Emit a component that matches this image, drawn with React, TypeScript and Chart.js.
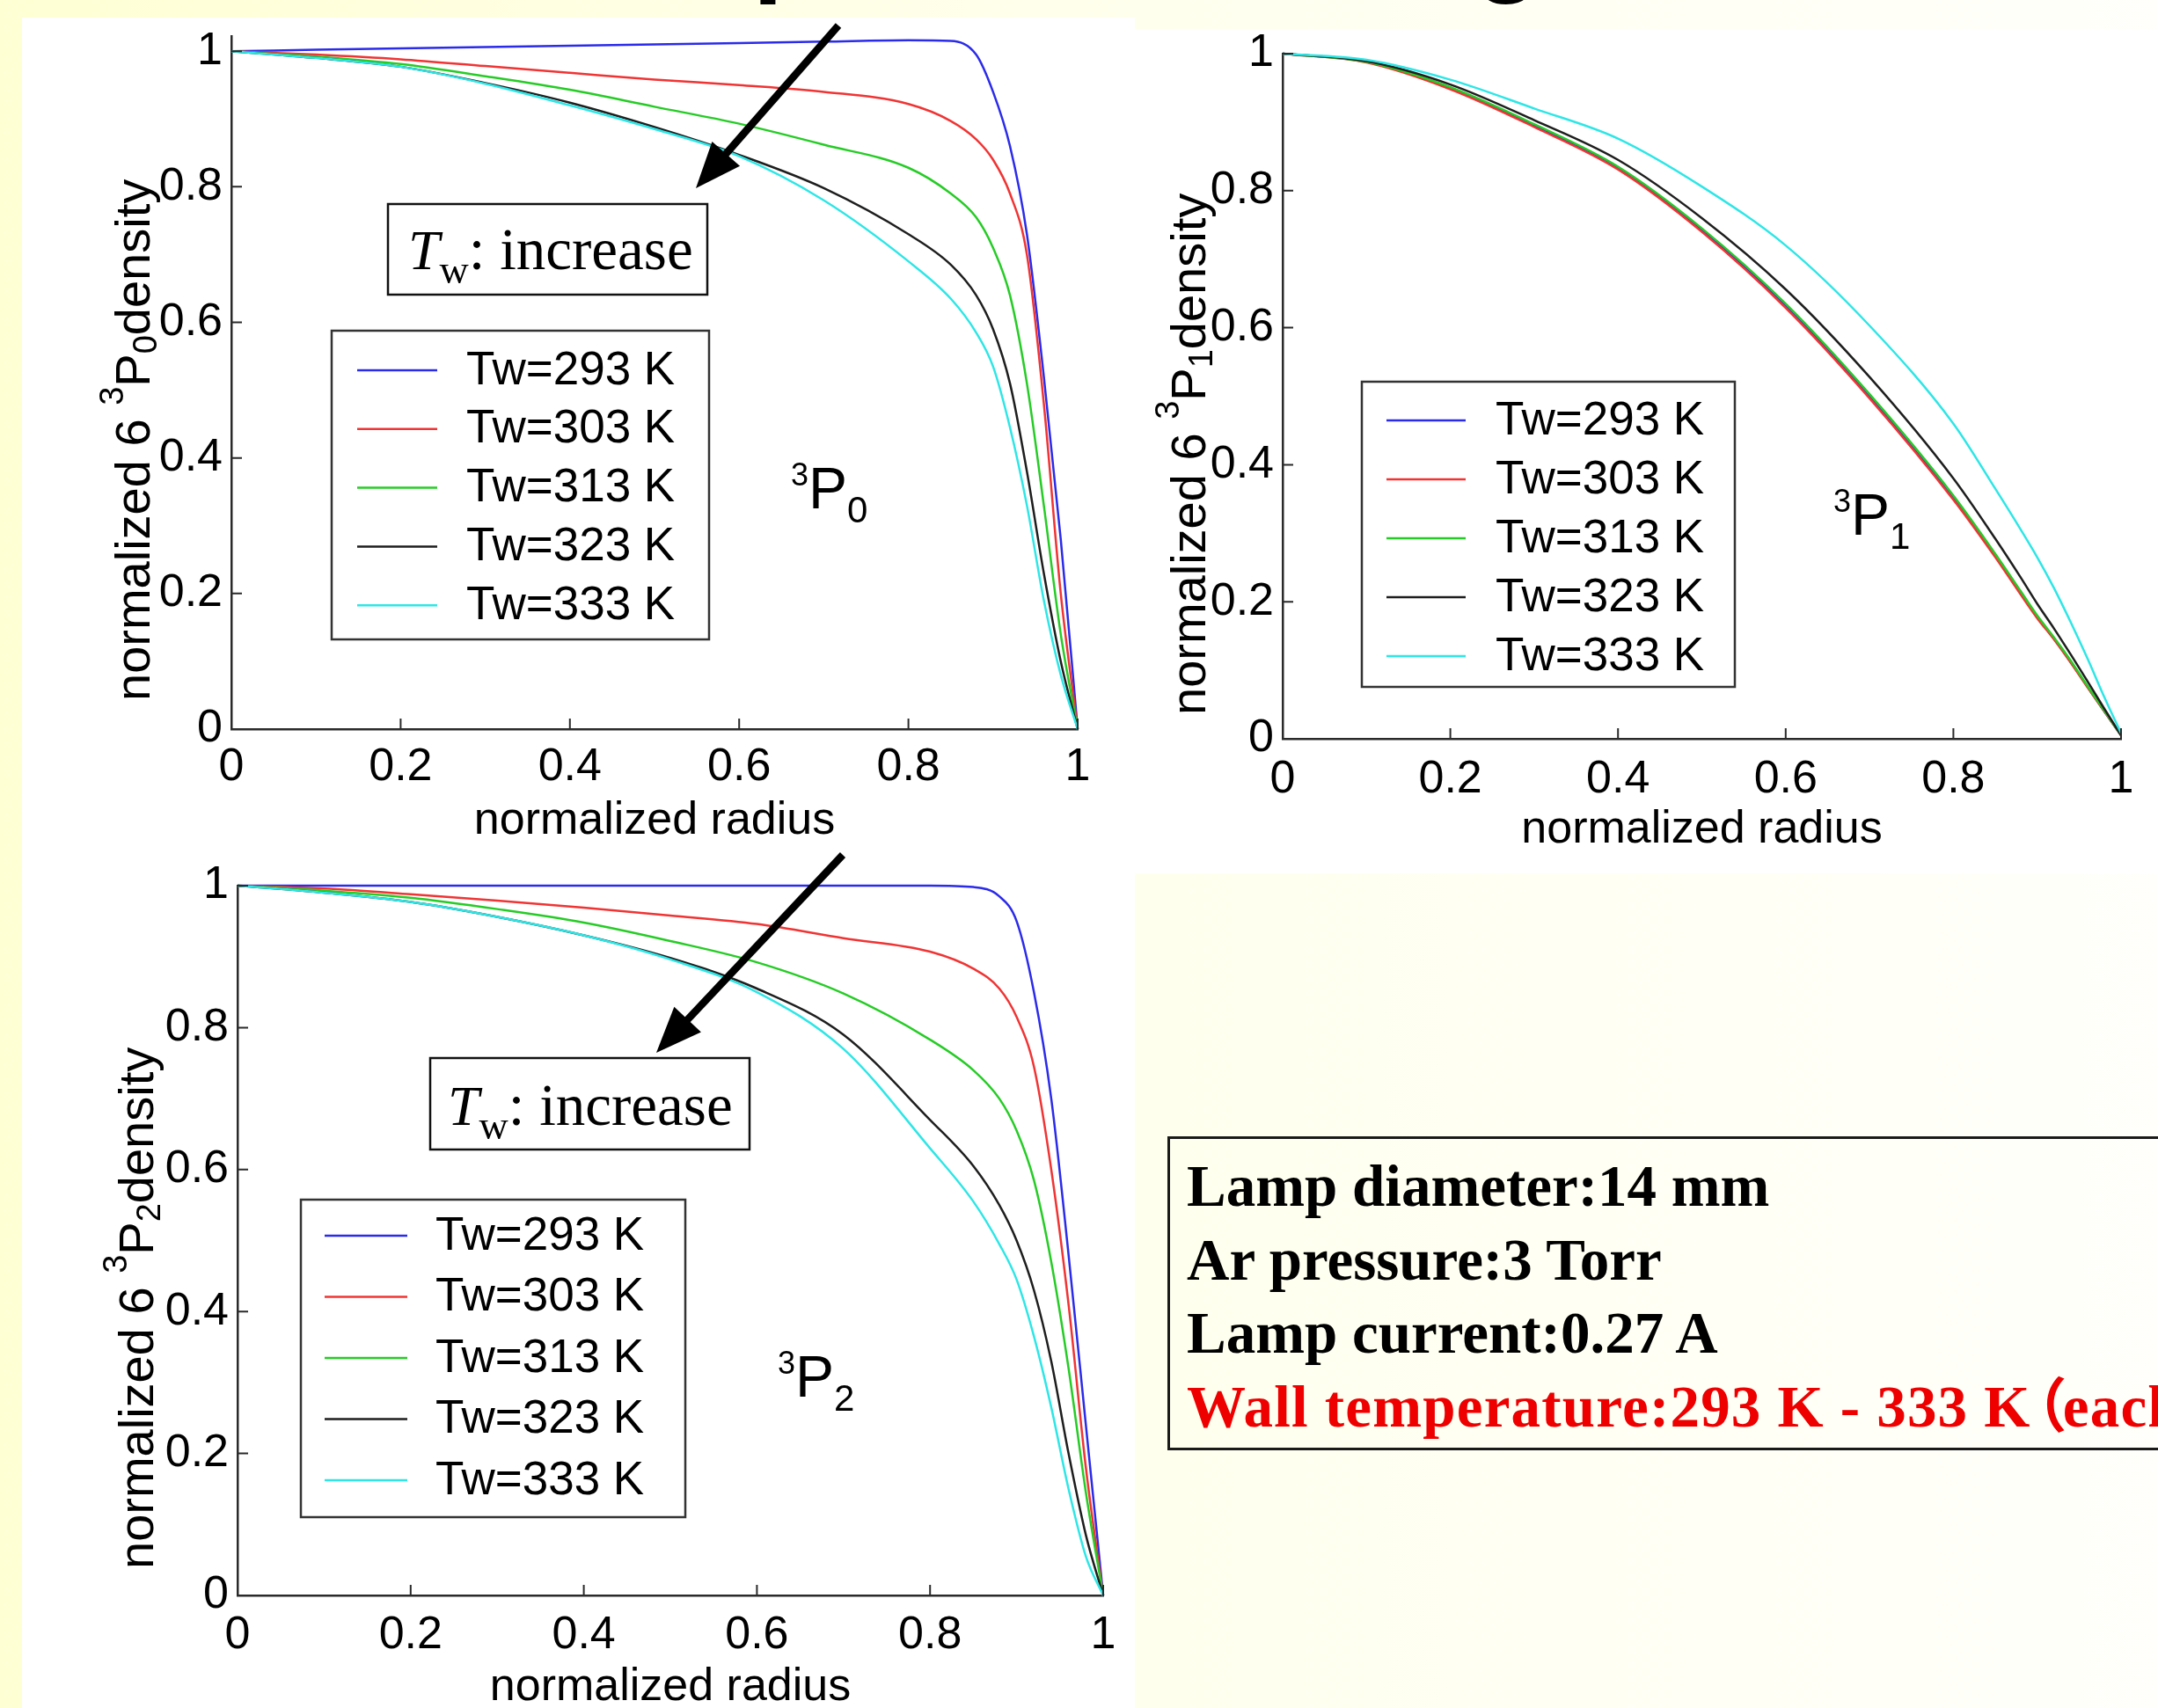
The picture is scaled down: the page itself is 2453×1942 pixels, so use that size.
import React, { useEffect, useRef } from 'react';
import { Chart, registerables } from 'chart.js';

Chart.register(...registerables);

// ---------------- data ----------------
const RADIUS = [0, 0.1, 0.2, 0.3, 0.4, 0.5, 0.6, 0.7, 0.8, 0.85, 0.88, 0.9, 0.92, 0.94, 0.96, 0.98, 1.0];
const TW_LABELS = ['Tw=293 K', 'Tw=303 K', 'Tw=313 K', 'Tw=323 K', 'Tw=333 K'];
const LINE_COLORS = ['#2b2bea', '#f03434', '#26cc26', '#1e1e1e', '#2ee6e6'];
const X_TICKS = [0, 0.2, 0.4, 0.6, 0.8, 1];
const X_TICK_LABELS = ['0', '0.2', '0.4', '0.6', '0.8', '1'];
const Y_TICKS = [0, 0.2, 0.4, 0.6, 0.8, 1];
const Y_TICK_LABELS = ['0', '0.2', '0.4', '0.6', '0.8', '1'];

// 6 3P0 density
const P0_293 = [1.0, 1.002, 1.004, 1.006, 1.008, 1.01, 1.012, 1.014, 1.016, 1.015, 0.995, 0.94, 0.86, 0.73, 0.52, 0.28, 0.0];
const P0_303 = [1.0, 0.995, 0.988, 0.978, 0.968, 0.958, 0.95, 0.94, 0.922, 0.897, 0.87, 0.84, 0.79, 0.7, 0.48, 0.2, 0.0];
const P0_313 = [1.0, 0.992, 0.981, 0.963, 0.943, 0.918, 0.893, 0.862, 0.828, 0.79, 0.755, 0.71, 0.64, 0.51, 0.33, 0.14, 0.0];
const P0_323 = [1.0, 0.99, 0.977, 0.953, 0.924, 0.888, 0.847, 0.798, 0.73, 0.685, 0.64, 0.59, 0.51, 0.38, 0.23, 0.1, 0.0];
const P0_333 = [1.0, 0.99, 0.977, 0.952, 0.92, 0.885, 0.845, 0.78, 0.69, 0.635, 0.585, 0.535, 0.445, 0.33, 0.19, 0.08, 0.0];

// 6 3P1 density
const P1_293 = [1.0, 0.988, 0.95, 0.895, 0.834, 0.743, 0.632, 0.5, 0.352, 0.267, 0.213, 0.178, 0.146, 0.112, 0.076, 0.04, 0.005];
const P1_303 = [1.0, 0.987, 0.948, 0.893, 0.831, 0.74, 0.629, 0.497, 0.349, 0.265, 0.211, 0.176, 0.145, 0.111, 0.075, 0.04, 0.005];
const P1_313 = [1.0, 0.988, 0.951, 0.897, 0.835, 0.745, 0.635, 0.503, 0.355, 0.27, 0.216, 0.18, 0.148, 0.114, 0.077, 0.041, 0.005];
const P1_323 = [1.0, 0.989, 0.955, 0.903, 0.845, 0.76, 0.656, 0.528, 0.38, 0.292, 0.236, 0.197, 0.161, 0.123, 0.084, 0.044, 0.005];
const P1_333 = [1.0, 0.991, 0.962, 0.92, 0.876, 0.806, 0.72, 0.603, 0.46, 0.365, 0.306, 0.265, 0.22, 0.17, 0.117, 0.061, 0.008];

// 6 3P2 density
const P2_293 = [1.0, 1.0, 1.0, 1.0, 1.0, 1.0, 1.0, 1.0, 1.0, 0.998, 0.985, 0.95, 0.85, 0.7, 0.48, 0.24, 0.0];
const P2_303 = [1.0, 0.996, 0.988, 0.979, 0.969, 0.958, 0.946, 0.926, 0.907, 0.883, 0.855, 0.815, 0.745, 0.6, 0.41, 0.18, 0.0];
const P2_313 = [1.0, 0.993, 0.983, 0.967, 0.948, 0.922, 0.892, 0.848, 0.783, 0.74, 0.7, 0.655, 0.585, 0.47, 0.32, 0.145, 0.0];
const P2_323 = [1.0, 0.99, 0.977, 0.956, 0.93, 0.898, 0.855, 0.79, 0.67, 0.605, 0.55, 0.5, 0.43, 0.33, 0.2, 0.085, 0.0];
const P2_333 = [1.0, 0.99, 0.977, 0.956, 0.93, 0.896, 0.85, 0.77, 0.63, 0.555, 0.495, 0.445, 0.365, 0.265, 0.15, 0.055, 0.0];

const INFO_LINES = ['Lamp diameter:14 mm', 'Ar pressure:3 Torr', 'Lamp current:0.27 A'];
const INFO_RED_A = 'Wall temperature:293 K - 333 K';
const INFO_RED_B = '（';
const INFO_RED_C = 'each 10 K）';
const TOP_TITLE = 'Temperature change';

// ---------------- styling ----------------
const SANS = '"Liberation Sans", Arial, Helvetica, sans-serif';
const SERIF = '"Liberation Serif", "Times New Roman", "Noto Sans CJK JP", serif';
const AXIS_COLOR = '#2a2a2a';
const TICK_LEN = 12;
const Y_AXIS_W = 150;

type Run = { t: string; size: number; dy?: number; style?: string; family?: string };

function drawRuns(ctx: CanvasRenderingContext2D, runs: Run[], x: number, y: number) {
  let cx = x;
  for (const r of runs) {
    ctx.font = `${r.style ? r.style + ' ' : ''}${r.size}px ${r.family ?? SANS}`;
    ctx.fillText(r.t, cx, y + (r.dy ?? 0));
    cx += ctx.measureText(r.t).width;
  }
}

type PanelCfg = {
  key: string;
  sub: string;
  series: number[][];
  canvas: { left: number; top: number; w: number; h: number };
  area: { left: number; top: number; right: number; bottom: number };
  yMax: number;
  xTickPad: number;
  xTitlePadBottom: number;
  yLabel: { x: number; y: number };
  legend: { box: number[]; line: number[]; textX: number; row0: number; step: number };
  state: { x: number; baseline: number };
  incBox?: { box: number[]; textX: number; baseline: number };
  arrow?: { from: number[]; to: number[] };
};

const PANELS: PanelCfg[] = [
  {
    key: 'p0', sub: '0',
    series: [P0_293, P0_303, P0_313, P0_323, P0_333],
    canvas: { left: 0, top: 0, w: 1290, h: 965 },
    area: { left: 263, top: 33, right: 1225, bottom: 829 },
    yMax: 1.022,
    xTickPad: 12,
    xTitlePadBottom: 0,
    yLabel: { x: 170, y: 797 },
    legend: { box: [377, 376, 806, 727], line: [406, 497], textX: 530, row0: 421, step: 66.8 },
    state: { x: 899, baseline: 578 },
    incBox: { box: [441, 232, 804, 335], textX: 464, baseline: 306 },
    arrow: { from: [953, 29], to: [791, 214] },
  },
  {
    key: 'p1', sub: '1',
    series: [P1_293, P1_303, P1_313, P1_323, P1_333],
    canvas: { left: 1290, top: 0, w: 1163, h: 975 },
    area: { left: 168, top: 61, right: 1121, bottom: 840 },
    yMax: 1.0,
    xTickPad: 15,
    xTitlePadBottom: 0,
    yLabel: { x: 80, y: 813 },
    legend: { box: [258, 434, 682, 781], line: [286, 376], textX: 410, row0: 478, step: 67 },
    state: { x: 794, baseline: 608 },
  },
  {
    key: 'p2', sub: '2',
    series: [P2_293, P2_303, P2_313, P2_323, P2_333],
    canvas: { left: 0, top: 965, w: 1290, h: 977 },
    area: { left: 270, top: 42, right: 1254, bottom: 849 },
    yMax: 1.0,
    xTickPad: 14,
    xTitlePadBottom: -8,
    yLabel: { x: 174, y: 819 },
    legend: { box: [342, 399, 779, 760], line: [369, 463], textX: 495, row0: 440, step: 69.5 },
    state: { x: 884, baseline: 623 },
    incBox: { box: [489, 238, 852, 342], textX: 509, baseline: 314 },
    arrow: { from: [958, 7], to: [746, 232] },
  },
];

function makeDecor(p: PanelCfg) {
  return {
    id: 'decor_' + p.key,
    afterDraw(chart: any) {
      const ctx: CanvasRenderingContext2D = chart.ctx;
      const xs = chart.scales.x;
      const ys = chart.scales.y;
      const { left, bottom } = chart.chartArea;
      ctx.save();

      // inward tick marks (MATLAB style)
      ctx.strokeStyle = AXIS_COLOR;
      ctx.lineWidth = 2;
      ctx.beginPath();
      xs.ticks.forEach((t: any) => {
        const px = xs.getPixelForValue(t.value);
        ctx.moveTo(px, bottom);
        ctx.lineTo(px, bottom - TICK_LEN);
      });
      ys.ticks.forEach((t: any) => {
        const py = ys.getPixelForValue(t.value);
        ctx.moveTo(left, py);
        ctx.lineTo(left + TICK_LEN, py);
      });
      ctx.stroke();

      // rotated y label with super/subscripts
      ctx.fillStyle = '#000';
      ctx.textBaseline = 'alphabetic';
      ctx.textAlign = 'left';
      ctx.save();
      ctx.translate(p.yLabel.x, p.yLabel.y);
      ctx.rotate(-Math.PI / 2);
      drawRuns(ctx, [
        { t: 'normalized 6 ', size: 56 },
        { t: '3', size: 38, dy: -30 },
        { t: 'P', size: 56 },
        { t: p.sub, size: 38, dy: 8 },
        { t: 'density', size: 56 },
      ], 0, 0);
      ctx.restore();

      // state label 3P_n
      drawRuns(ctx, [
        { t: '3', size: 36, dy: -26 },
        { t: 'P', size: 66 },
        { t: p.sub, size: 42, dy: 16 },
      ], p.state.x, p.state.baseline);

      // legend
      const lg = p.legend;
      ctx.fillStyle = '#fff';
      ctx.fillRect(lg.box[0], lg.box[1], lg.box[2] - lg.box[0], lg.box[3] - lg.box[1]);
      ctx.strokeStyle = '#333';
      ctx.lineWidth = 2.5;
      ctx.strokeRect(lg.box[0], lg.box[1], lg.box[2] - lg.box[0], lg.box[3] - lg.box[1]);
      chart.data.datasets.forEach((ds: any, i: number) => {
        const y = lg.row0 + i * lg.step;
        ctx.strokeStyle = ds.borderColor;
        ctx.lineWidth = 2.5;
        ctx.beginPath();
        ctx.moveTo(lg.line[0], y);
        ctx.lineTo(lg.line[1], y);
        ctx.stroke();
        ctx.fillStyle = '#000';
        ctx.font = `53px ${SANS}`;
        ctx.textBaseline = 'middle';
        ctx.fillText(ds.label, lg.textX, y + 1);
      });
      ctx.textBaseline = 'alphabetic';

      // "Tw: increase" box
      if (p.incBox) {
        const b = p.incBox.box;
        ctx.fillStyle = '#fff';
        ctx.fillRect(b[0], b[1], b[2] - b[0], b[3] - b[1]);
        ctx.strokeStyle = '#111';
        ctx.lineWidth = 2.5;
        ctx.strokeRect(b[0], b[1], b[2] - b[0], b[3] - b[1]);
        ctx.fillStyle = '#000';
        drawRuns(ctx, [
          { t: 'T', size: 64, style: 'italic', family: SERIF },
          { t: 'w', size: 46, dy: 16, family: SERIF },
          { t: ': increase', size: 67, family: SERIF },
        ], p.incBox.textX, p.incBox.baseline);
      }

      // arrow
      if (p.arrow) {
        const [x1, y1] = p.arrow.from;
        const [x2, y2] = p.arrow.to;
        const ang = Math.atan2(y2 - y1, x2 - x1);
        const HL = 52;
        const HW = 21;
        const bx = x2 - HL * Math.cos(ang);
        const by = y2 - HL * Math.sin(ang);
        ctx.strokeStyle = '#000';
        ctx.fillStyle = '#000';
        ctx.lineWidth = 8.5;
        ctx.lineCap = 'butt';
        ctx.beginPath();
        ctx.moveTo(x1, y1);
        ctx.lineTo(bx + 4 * Math.cos(ang), by + 4 * Math.sin(ang));
        ctx.stroke();
        ctx.beginPath();
        ctx.moveTo(x2, y2);
        ctx.lineTo(bx + HW * Math.sin(ang), by - HW * Math.cos(ang));
        ctx.lineTo(bx - HW * Math.sin(ang), by + HW * Math.cos(ang));
        ctx.closePath();
        ctx.fill();
      }
      ctx.restore();
    },
  };
}

function PlotCanvas({ p }: { p: PanelCfg }) {
  const ref = useRef<HTMLCanvasElement>(null);
  useEffect(() => {
    const { w, h } = p.canvas;
    const a = p.area;
    const datasets = p.series.map((vals, i) => ({
      label: TW_LABELS[i],
      data: RADIUS.map((r, j) => ({ x: r, y: vals[j] })),
      borderColor: LINE_COLORS[i],
      backgroundColor: LINE_COLORS[i],
      borderWidth: 2.5,
      pointRadius: 0,
      fill: false,
      cubicInterpolationMode: 'monotone' as const,
      clip: false as any,
      order: 5 - i,
    }));
    const chart = new Chart(ref.current!, {
      type: 'line',
      data: { datasets },
      options: {
        animation: false,
        responsive: false,
        events: [],
        layout: {
          padding: { left: a.left - Y_AXIS_W, top: a.top, right: w - a.right, bottom: 0 },
        },
        plugins: { legend: { display: false }, tooltip: { enabled: false } },
        scales: {
          x: {
            type: 'linear',
            min: 0,
            max: 1,
            grid: { display: false, drawTicks: false },
            border: { display: true, color: AXIS_COLOR, width: 2.5 },
            afterBuildTicks: (s: any) => { s.ticks = X_TICKS.map((v) => ({ value: v })); },
            afterFit: (s: any) => { s.height = h - a.bottom; },
            ticks: {
              padding: p.xTickPad,
              color: '#000',
              font: { family: SANS, size: 52 },
              maxRotation: 0,
              autoSkip: false,
              callback: (v: any) => X_TICK_LABELS[X_TICKS.findIndex((t) => Math.abs(t - Number(v)) < 1e-6)] ?? '',
            },
            title: {
              display: true,
              text: 'normalized radius',
              color: '#000',
              font: { family: SANS, size: 52 },
              padding: { top: 0, bottom: p.xTitlePadBottom },
            },
          },
          y: {
            type: 'linear',
            min: 0,
            max: p.yMax,
            grid: { display: false, drawTicks: false },
            border: { display: true, color: AXIS_COLOR, width: 2.5 },
            afterBuildTicks: (s: any) => { s.ticks = Y_TICKS.map((v) => ({ value: v })); },
            afterFit: (s: any) => { s.width = Y_AXIS_W; },
            ticks: {
              padding: 10,
              color: '#000',
              font: { family: SANS, size: 52 },
              autoSkip: false,
              callback: (v: any) => Y_TICK_LABELS[Y_TICKS.findIndex((t) => Math.abs(t - Number(v)) < 1e-6)] ?? '',
            },
          },
        },
      },
      plugins: [makeDecor(p)],
    });
    return () => chart.destroy();
  }, [p]);
  return (
    <canvas
      ref={ref}
      width={p.canvas.w}
      height={p.canvas.h}
      style={{ position: 'absolute', left: p.canvas.left, top: p.canvas.top, width: p.canvas.w, height: p.canvas.h }}
    />
  );
}

export default function App() {
  return (
    <div
      style={{
        position: 'fixed',
        left: 0,
        top: 0,
        width: 2453,
        height: 1942,
        overflow: 'hidden',
        background: 'linear-gradient(to right, #ffffd4 0%, #ffffe4 30%, #fffff0 60%, #fffffb 100%)',
      }}
    >
      <div
        style={{
          position: 'absolute',
          left: 610,
          top: -126,
          font: `bold 124px ${SANS}`,
          lineHeight: '124px',
          whiteSpace: 'nowrap',
          color: '#000',
        }}
      >
        {TOP_TITLE}
      </div>
      <div style={{ position: 'absolute', left: 25, top: 20, width: 1265, height: 1922, background: '#fff' }} />
      <div style={{ position: 'absolute', left: 1290, top: 33, width: 1163, height: 960, background: '#fff' }} />
      {PANELS.map((p) => (
        <PlotCanvas key={p.key} p={p} />
      ))}
      <div
        style={{
          position: 'absolute',
          left: 1327,
          top: 1292,
          width: 1300,
          height: 357,
          boxSizing: 'border-box',
          border: '3px solid #1a1a1a',
        }}
      >
        <div
          style={{
            position: 'absolute',
            left: 19,
            top: 12,
            font: `bold 67px ${SERIF}`,
            lineHeight: '83.7px',
            whiteSpace: 'nowrap',
            color: '#000',
          }}
        >
          {INFO_LINES.map((l) => (
            <div key={l}>{l}</div>
          ))}
          <div style={{ color: '#ee0000', letterSpacing: '1.2px' }}>
            {INFO_RED_A}
            <span style={{ marginLeft: -26, marginRight: -6 }}>{INFO_RED_B}</span>
            {INFO_RED_C}
          </div>
        </div>
      </div>
    </div>
  );
}
